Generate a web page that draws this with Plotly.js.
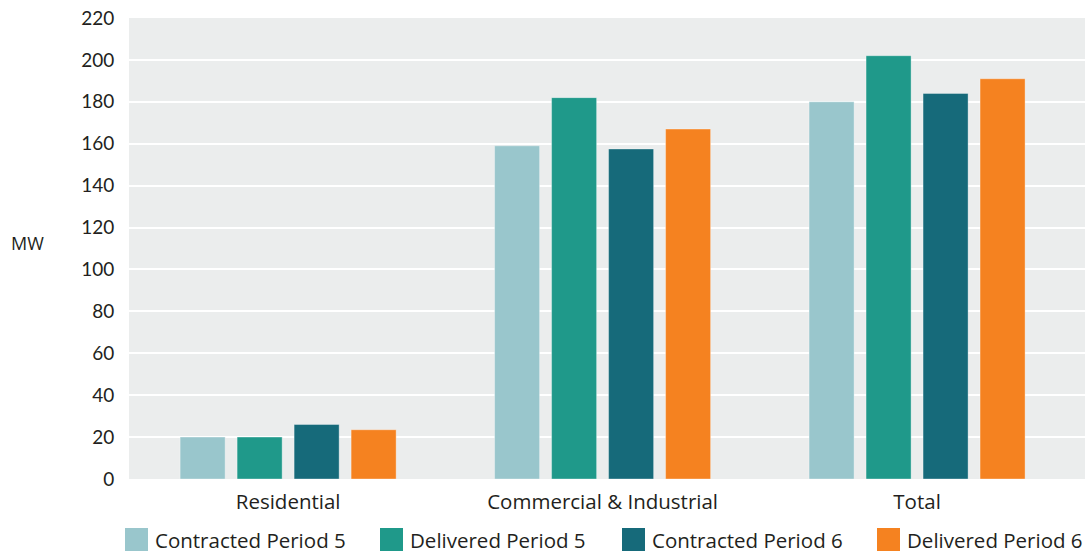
<!DOCTYPE html>
<html>
<head>
<meta charset="utf-8">
<script src="https://cdn.plot.ly/plotly-3.0.1.min.js"></script>
<style>html,body{margin:0;padding:0;background:#fff;}#chart{width:1090px;height:553px;}</style>
</head>
<body>
<div id="chart"></div>
<script>
const categories = ["Residential", "Commercial & Industrial", "Total"];
const seriesNames = ["Contracted Period 5", "Delivered Period 5", "Contracted Period 6", "Delivered Period 6"];
const contractedP5 = [20, 159, 180];
const deliveredP5 = [20, 182, 202];
const contractedP6 = [26, 157.5, 184];
const deliveredP6 = [23.5, 167, 191];
const yTicks = [0, 20, 40, 60, 80, 100, 120, 140, 160, 180, 200, 220];

const colors = ["#99c6cc", "#1f998a", "#166a7a", "#f58220"];
const values = [contractedP5, deliveredP5, contractedP6, deliveredP6];
const FONT = "'Open Sans', sans-serif";
const TICKFONT = "Lato, 'Open Sans', sans-serif";
const TXT = "#231f20";

const traces = values.map((v, i) => ({
  type: "bar",
  name: seriesNames[i],
  x: categories,
  y: v,
  marker: {color: colors[i], line: {color: "rgba(255,255,255,0.35)", width: 1}},
  hoverinfo: "x+y+name"
}));

// custom legend (swatches + labels) in paper coordinates
const legX = [125, 380, 622, 877];
const plotL = 129, plotW = 956, plotB = 479, plotH = 461;
const px2x = p => (p - plotL) / plotW;
const px2y = p => (plotB - p) / plotH;
const shapes = [], annotations = [];
legX.forEach((lx, i) => {
  shapes.push({type: "rect", xref: "paper", yref: "paper",
    x0: px2x(lx), x1: px2x(lx + 23), y0: px2y(551), y1: px2y(528),
    fillcolor: colors[i], line: {width: 0}});
  annotations.push({xref: "paper", yref: "paper", x: px2x(lx + 28), y: px2y(540),
    xanchor: "left", yanchor: "middle", showarrow: false,
    text: seriesNames[i], font: {family: FONT, size: 20.5, color: TXT}});
});
annotations.push({xref: "paper", yref: "paper", x: px2x(27), y: px2y(243),
  xanchor: "center", yanchor: "middle", showarrow: false,
  text: "MW", font: {family: FONT, size: 18, color: TXT}});

const layout = {
  width: 1090, height: 553,
  margin: {l: 129, r: 5, t: 18, b: 74},
  paper_bgcolor: "#ffffff",
  plot_bgcolor: "#ebeded",
  barmode: "group",
  bargap: 0.275,
  bargroupgap: 0.21,
  showlegend: false,
  font: {family: FONT, size: 18, color: TXT},
  xaxis: {
    type: "category",
    range: [-0.506, 2.534],
    showgrid: false, zeroline: false, showline: false,
    ticks: "outside", ticklen: 4, tickcolor: "rgba(0,0,0,0)",
    tickfont: {family: FONT, size: 20.5, color: TXT}
  },
  yaxis: {
    range: [0, 220],
    tickvals: yTicks,
    ticktext: yTicks.map(String),
    showgrid: true, gridcolor: "#ffffff", gridwidth: 2,
    zeroline: false, showline: false,
    ticks: "outside", ticklen: 10, tickcolor: "rgba(0,0,0,0)",
    tickfont: {family: TICKFONT, size: 19, color: TXT}
  },
  shapes: shapes,
  annotations: annotations
};

Plotly.newPlot("chart", traces, layout, {displayModeBar: false, staticPlot: true});
</script>
</body>
</html>
